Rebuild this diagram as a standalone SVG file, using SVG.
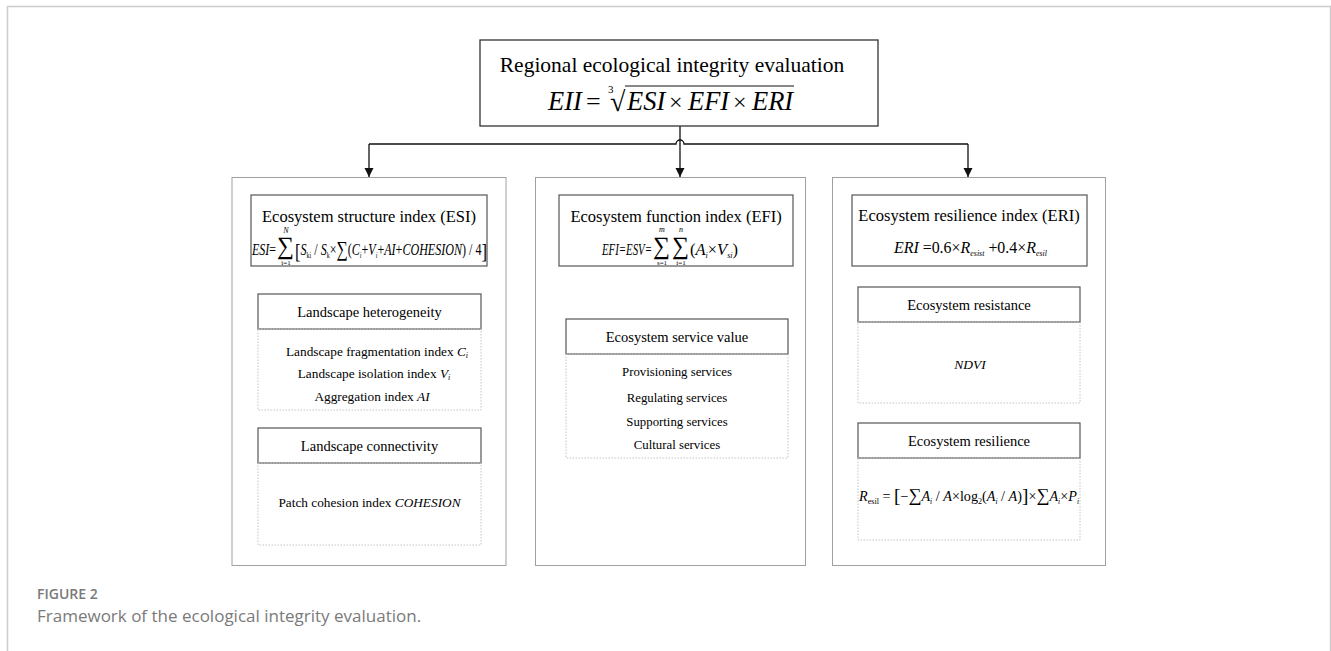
<svg xmlns="http://www.w3.org/2000/svg" width="1331" height="651" viewBox="0 0 1331 651">
<defs>
<style>
.s{font-family:"Liberation Serif","Times New Roman",serif;fill:#000}
.i{font-style:italic}
.m{text-anchor:middle}
.panel{fill:#fff;stroke:#a0a0a0;stroke-width:1}
.box{fill:#fff;stroke:#555;stroke-width:1.2}
.dot{fill:none;stroke:#c4c4c4;stroke-width:1;stroke-dasharray:1.5 1.5}
.conn{fill:none;stroke:#111;stroke-width:1.3}
.cap{font-family:"Open Sans","Liberation Sans",sans-serif;fill:#7a7a7a}
</style>
<marker id="ah" markerWidth="9" markerHeight="10" refX="9" refY="4.5" orient="auto" markerUnits="userSpaceOnUse">
<path d="M0,0 L9,4.5 L0,9 z" fill="#111"/>
</marker>
</defs>
<rect width="1331" height="651" fill="#fff"/>
<path d="M7.5,651 V6.5 H1330.5 V651" fill="none" stroke="#cccccc" stroke-width="1.5"/>

<g id="connectors">
<path class="conn" d="M680,126 V177" marker-end="url(#ah)"/>
<path class="conn" d="M369,144 H676 A4,4 0 0 1 684,144 H968"/>
<path class="conn" d="M369,144 V177" marker-end="url(#ah)"/>
<path class="conn" d="M968,144 V177" marker-end="url(#ah)"/>
</g>

<g id="top">
<rect x="480" y="40" width="398" height="86" fill="#fff" stroke="#333" stroke-width="1.3"/>
<text class="s m" x="672" y="72" font-size="21.5">Regional ecological integrity evaluation</text>
<text class="s i" x="548" y="110" font-size="26.5">EII</text>
<text class="s" x="586" y="110" font-size="26">=</text>
<text class="s" x="608" y="93" font-size="11">3</text>
<text class="s" x="610" y="111" font-size="28">√</text>
<line x1="625" y1="86" x2="794" y2="86" stroke="#111" stroke-width="1.2"/>
<text class="s i" x="627" y="110" font-size="26.5">ESI</text>
<text class="s" x="669" y="110" font-size="24">×</text>
<text class="s i" x="688" y="110" font-size="26.5">EFI</text>
<text class="s" x="733" y="110" font-size="24">×</text>
<text class="s i" x="752" y="110" font-size="26.5">ERI</text>
</g>

<g id="esi-panel">
<rect class="panel" x="232" y="177.5" width="274" height="388"/>
<rect class="box" x="251" y="195" width="236" height="71"/>
<text class="s m" x="369" y="222" font-size="16.5">Ecosystem structure index (ESI)</text>
<text class="s" x="252" y="255" font-size="16" textLength="24" lengthAdjust="spacingAndGlyphs"><tspan class="i">ESI</tspan>=</text>
<text class="s" x="277" y="254" font-size="25" textLength="17" lengthAdjust="spacingAndGlyphs">∑</text>
<text class="s i m" x="286" y="233" font-size="8">N</text>
<text class="s m" x="286" y="265" font-size="7">i=1</text>
<text class="s" x="295" y="255" font-size="16" textLength="192" lengthAdjust="spacingAndGlyphs"><tspan font-size="22" dy="3">[</tspan><tspan class="i" dy="-3">S</tspan><tspan font-size="8" dy="3">ki</tspan><tspan dy="-3"> / </tspan><tspan class="i">S</tspan><tspan font-size="8" dy="3">k</tspan><tspan dy="-3">×</tspan><tspan font-size="21" dy="1">∑</tspan><tspan dy="-1">(</tspan><tspan class="i">C</tspan><tspan font-size="8" dy="3" class="i">i</tspan><tspan dy="-3">+</tspan><tspan class="i">V</tspan><tspan font-size="8" dy="3" class="i">i</tspan><tspan dy="-3">+</tspan><tspan class="i">AI</tspan>+<tspan class="i">COHESION</tspan>) / 4<tspan font-size="22" dy="3">]</tspan></text>

<rect class="box" x="258" y="294" width="223" height="35"/>
<text class="s m" x="369.5" y="316.5" font-size="14.5">Landscape heterogeneity</text>
<rect class="dot" x="258" y="329" width="223" height="81"/>
<text class="s m" x="377" y="356" font-size="13.3">Landscape fragmentation index <tspan class="i">C</tspan><tspan class="i" font-size="8" dy="2">i</tspan></text>
<text class="s m" x="374" y="378" font-size="13.3">Landscape isolation index <tspan class="i">V</tspan><tspan class="i" font-size="8" dy="2">i</tspan></text>
<text class="s m" x="372" y="401" font-size="13.3">Aggregation index <tspan class="i">AI</tspan></text>

<rect class="box" x="258" y="428" width="223" height="35"/>
<text class="s m" x="369.5" y="450.5" font-size="14.5">Landscape connectivity</text>
<rect class="dot" x="258" y="463" width="223" height="82"/>
<text class="s m" x="369.5" y="507" font-size="13.3">Patch cohesion index <tspan class="i">COHESION</tspan></text>
</g>

<g id="efi-panel">
<rect class="panel" x="535.5" y="177.5" width="270" height="388"/>
<rect class="box" x="559" y="195" width="234" height="71"/>
<text class="s m" x="676" y="222" font-size="16.5">Ecosystem function index (EFI)</text>
<text class="s i" x="602" y="255" font-size="16.5" textLength="50" lengthAdjust="spacingAndGlyphs">EFI=ESV=</text>
<text class="s" x="653" y="254" font-size="25" textLength="17" lengthAdjust="spacingAndGlyphs">∑</text>
<text class="s i m" x="662" y="232" font-size="8">m</text>
<text class="s m" x="662" y="265" font-size="7">s=1</text>
<text class="s" x="672" y="254" font-size="25" textLength="17" lengthAdjust="spacingAndGlyphs">∑</text>
<text class="s i m" x="681" y="232" font-size="8">n</text>
<text class="s m" x="681" y="265" font-size="7">i=1</text>
<text class="s" x="690" y="255" font-size="16.5" textLength="48" lengthAdjust="spacingAndGlyphs">(<tspan class="i">A</tspan><tspan class="i" font-size="8" dy="3">i</tspan><tspan dy="-3">×</tspan><tspan class="i">V</tspan><tspan class="i" font-size="8" dy="3">si</tspan><tspan dy="-3">)</tspan></text>

<rect class="box" x="566" y="319" width="222" height="35"/>
<text class="s m" x="677" y="341.5" font-size="14.5">Ecosystem service value</text>
<rect class="dot" x="566" y="354" width="222" height="104"/>
<text class="s m" x="677" y="376" font-size="12.8">Provisioning services</text>
<text class="s m" x="677" y="402" font-size="12.8">Regulating services</text>
<text class="s m" x="677" y="426" font-size="12.8">Supporting services</text>
<text class="s m" x="677" y="449" font-size="12.8">Cultural services</text>
</g>

<g id="eri-panel">
<rect class="panel" x="832.5" y="177.5" width="273" height="388"/>
<rect class="box" x="852" y="195" width="235" height="71"/>
<text class="s m" x="969" y="221" font-size="16.5">Ecosystem resilience index (ERI)</text>
<text class="s" x="894" y="253" font-size="16" textLength="153" lengthAdjust="spacingAndGlyphs"><tspan class="i">ERI</tspan> =0.6×<tspan class="i">R</tspan><tspan class="i" font-size="8" dy="3">esist</tspan><tspan dy="-3"> +0.4×</tspan><tspan class="i">R</tspan><tspan class="i" font-size="8" dy="3">esil</tspan></text>

<rect class="box" x="858" y="287" width="222" height="35"/>
<text class="s m" x="969" y="309.5" font-size="14.5">Ecosystem resistance</text>
<rect class="dot" x="858" y="322" width="222" height="81"/>
<text class="s i m" x="970" y="369" font-size="13.5">NDVI</text>

<rect class="box" x="858" y="423" width="222" height="35"/>
<text class="s m" x="969" y="445.5" font-size="14.5">Ecosystem resilience</text>
<rect class="dot" x="858" y="458" width="222" height="82"/>
<text class="s" x="859" y="501" font-size="14" textLength="220" lengthAdjust="spacingAndGlyphs"><tspan class="i">R</tspan><tspan font-size="8" dy="3">esil</tspan><tspan dy="-3"> = </tspan><tspan font-size="19" dy="1">[</tspan><tspan dy="-1">−</tspan><tspan font-size="18">∑</tspan><tspan class="i">A</tspan><tspan class="i" font-size="7.5" dy="3">i</tspan><tspan dy="-3"> / </tspan><tspan class="i">A</tspan>×log<tspan font-size="8" dy="3">2</tspan><tspan dy="-3">(</tspan><tspan class="i">A</tspan><tspan class="i" font-size="7.5" dy="3">i</tspan><tspan dy="-3"> / </tspan><tspan class="i">A</tspan>)<tspan font-size="19" dy="1">]</tspan><tspan dy="-1">×</tspan><tspan font-size="18">∑</tspan><tspan class="i">A</tspan><tspan class="i" font-size="7.5" dy="3">i</tspan><tspan dy="-3">×</tspan><tspan class="i">P</tspan><tspan class="i" font-size="7.5" dy="3">i</tspan></text>
</g>

<g id="caption">
<text class="cap" x="37" y="599" font-size="14" font-weight="600">FIGURE 2</text>
<text class="cap" x="37" y="622" font-size="17">Framework of the ecological integrity evaluation.</text>
</g>
</svg>
